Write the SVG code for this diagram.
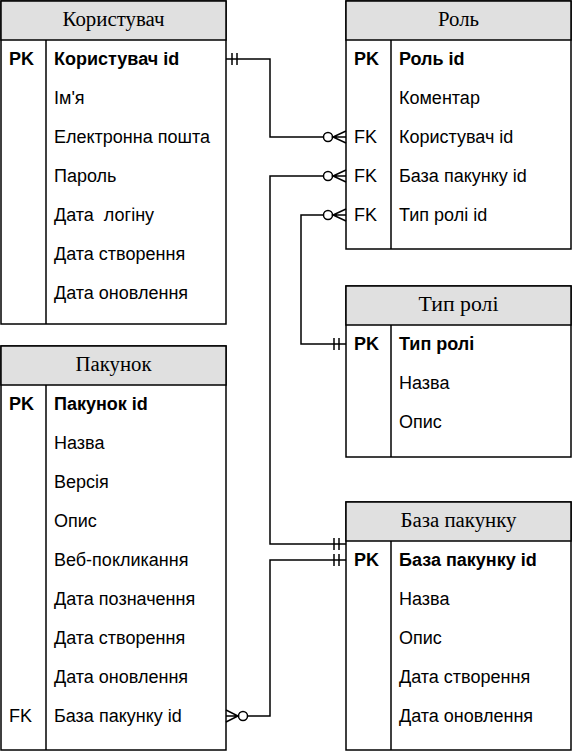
<svg xmlns="http://www.w3.org/2000/svg" width="572" height="752" viewBox="0 0 572 752">
<style>
.box{fill:#ffffff;stroke:#000;stroke-width:1.5}
.hdr{fill:#e0e0e0;stroke:#000;stroke-width:1.5}
.ln{stroke:#000;stroke-width:1.5;fill:none}
.t{font-family:"Liberation Serif",serif;font-size:20px;text-anchor:middle;fill:#000}
.r{font-family:"Liberation Sans",Arial,sans-serif;font-size:18px;fill:#000;white-space:pre}
.b{font-weight:bold}
.c{stroke:#000;stroke-width:1.5;fill:none}
.o{stroke:#000;stroke-width:1.5;fill:#fff}
</style>
<g id="user">
<rect class="box" x="1" y="1" width="225" height="323"/>
<rect class="hdr" x="1" y="1" width="225" height="39"/>
<line class="ln" x1="46" y1="40" x2="46" y2="324"/>
<text class="t" x="113.5" y="26" textLength="102" lengthAdjust="spacingAndGlyphs">Користувач</text>
<text class="r b" x="9" y="65">PK</text>
<text class="r b" x="54" y="65">Користувач id</text>
<text class="r" x="54" y="104">Ім'я</text>
<text class="r" x="54" y="143">Електронна пошта</text>
<text class="r" x="54" y="182">Пароль</text>
<text class="r" x="54" y="221" xml:space="preserve">Дата  логіну</text>
<text class="r" x="54" y="260">Дата створення</text>
<text class="r" x="54" y="299">Дата оновлення</text>
</g>
<g id="role">
<rect class="box" x="346" y="1" width="225" height="248"/>
<rect class="hdr" x="346" y="1" width="225" height="39"/>
<line class="ln" x1="391" y1="40" x2="391" y2="249"/>
<text class="t" x="458.5" y="26" textLength="41" lengthAdjust="spacingAndGlyphs">Роль</text>
<text class="r b" x="354" y="65">PK</text>
<text class="r b" x="399" y="65">Роль id</text>
<text class="r" x="399" y="104">Коментар</text>
<text class="r" x="354" y="143">FK</text>
<text class="r" x="399" y="143">Користувач id</text>
<text class="r" x="354" y="182">FK</text>
<text class="r" x="399" y="182">База пакунку id</text>
<text class="r" x="354" y="221">FK</text>
<text class="r" x="399" y="221">Тип ролі id</text>
</g>
<g id="roletype">
<rect class="box" x="346" y="286" width="225" height="171"/>
<rect class="hdr" x="346" y="286" width="225" height="39"/>
<line class="ln" x1="391" y1="325" x2="391" y2="457"/>
<text class="t" x="458.5" y="311" textLength="80" lengthAdjust="spacingAndGlyphs">Тип ролі</text>
<text class="r b" x="354" y="350">PK</text>
<text class="r b" x="399" y="350">Тип ролі</text>
<text class="r" x="399" y="389">Назва</text>
<text class="r" x="399" y="428">Опис</text>
</g>
<g id="package">
<rect class="box" x="1" y="346" width="225" height="404"/>
<rect class="hdr" x="1" y="346" width="225" height="39"/>
<line class="ln" x1="46" y1="385" x2="46" y2="750"/>
<text class="t" x="113.5" y="371" textLength="76" lengthAdjust="spacingAndGlyphs">Пакунок</text>
<text class="r b" x="9" y="410">PK</text>
<text class="r b" x="54" y="410">Пакунок id</text>
<text class="r" x="54" y="449">Назва</text>
<text class="r" x="54" y="488">Версія</text>
<text class="r" x="54" y="527">Опис</text>
<text class="r" x="54" y="566">Веб-покликання</text>
<text class="r" x="54" y="605">Дата позначення</text>
<text class="r" x="54" y="644">Дата створення</text>
<text class="r" x="54" y="683">Дата оновлення</text>
<text class="r" x="9" y="722">FK</text>
<text class="r" x="54" y="722">База пакунку id</text>
</g>
<g id="packagebase">
<rect class="box" x="346" y="502" width="225" height="248"/>
<rect class="hdr" x="346" y="502" width="225" height="39"/>
<line class="ln" x1="391" y1="541" x2="391" y2="750"/>
<text class="t" x="458.5" y="527" textLength="116" lengthAdjust="spacingAndGlyphs">База пакунку</text>
<text class="r b" x="354" y="566">PK</text>
<text class="r b" x="399" y="566">База пакунку id</text>
<text class="r" x="399" y="605">Назва</text>
<text class="r" x="399" y="644">Опис</text>
<text class="r" x="399" y="683">Дата створення</text>
<text class="r" x="399" y="722">Дата оновлення</text>
</g>
<g id="connectors">
<path class="c" d="M226 59 H270 V137 H323"/>
<line class="c" x1="232" y1="53" x2="232" y2="65"/>
<line class="c" x1="237" y1="53" x2="237" y2="65"/>
<circle class="o" cx="328" cy="137" r="4.5"/>
<path class="c" d="M346 131 L333 137 L346 143 M333 137 H346"/>
<path class="c" d="M323 176 H270 V544 H346"/>
<circle class="o" cx="328" cy="176" r="4.5"/>
<path class="c" d="M346 170 L333 176 L346 182 M333 176 H346"/>
<line class="c" x1="334" y1="538" x2="334" y2="550"/>
<line class="c" x1="339" y1="538" x2="339" y2="550"/>
<path class="c" d="M323 215 H301 V344 H346"/>
<circle class="o" cx="328" cy="215" r="4.5"/>
<path class="c" d="M346 209 L333 215 L346 221 M333 215 H346"/>
<line class="c" x1="334" y1="338" x2="334" y2="350"/>
<line class="c" x1="339" y1="338" x2="339" y2="350"/>
<path class="c" d="M346 560 H270 V716 H248"/>
<line class="c" x1="334" y1="554" x2="334" y2="566"/>
<line class="c" x1="339" y1="554" x2="339" y2="566"/>
<circle class="o" cx="243" cy="716" r="4.5"/>
<path class="c" d="M226 710 L238 716 L226 722 M226 716 H238"/>
</g>
</svg>
